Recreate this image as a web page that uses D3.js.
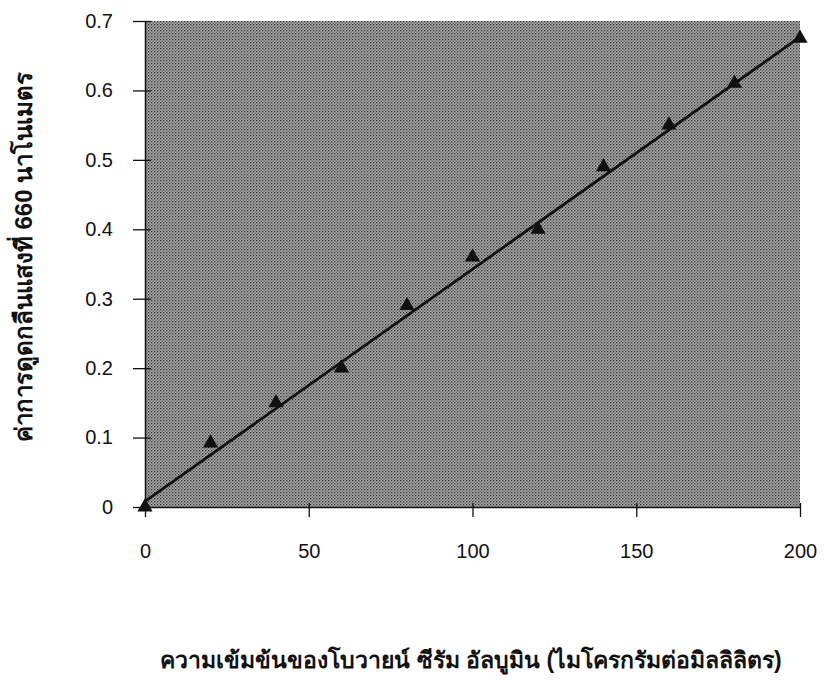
<!DOCTYPE html>
<html>
<head>
<meta charset="utf-8">
<script src="https://cdn.jsdelivr.net/npm/d3@7"></script>
<style>
  body { margin: 0; background: #ffffff; }
  text { font-family: "Liberation Sans", Arial, sans-serif; }
</style>
</head>
<body>
<div id="chart"></div>
<script>
// data
var concentration = [0, 20, 40, 60, 80, 100, 120, 140, 160, 180, 200];
var absorbance = [0, 0.092, 0.15, 0.20, 0.29, 0.36, 0.40, 0.49, 0.55, 0.61, 0.675];
var fitX = [0, 200];
var fitY = [0.008, 0.677];
var xTicks = [0, 50, 100, 150, 200];
var yTicks = [0, 0.1, 0.2, 0.3, 0.4, 0.5, 0.6, 0.7];
var xTitle = "ความเข้มข้นของโบวายน์ ซีรัม อัลบูมิน (ไมโครกรัมต่อมิลลิลิตร)";
var yTitle = "ค่าการดูดกลืนแสงที่ 660 นาโนเมตร";

var svgWidth = 824, svgHeight = 685;
var margin = {top: 21, right: 24, bottom: 178, left: 145};
var width = svgWidth - margin.left - margin.right;
var height = svgHeight - margin.top - margin.bottom;

var svg = d3.select("#chart").append("svg")
  .attr("width", svgWidth)
  .attr("height", svgHeight);

// stipple pattern for the plot area
var defs = svg.append("defs");
var pat = defs.append("pattern")
  .attr("id", "stipple")
  .attr("width", 3).attr("height", 3)
  .attr("patternUnits", "userSpaceOnUse");
pat.append("rect").attr("width", 3).attr("height", 3).attr("fill", "#aeaeae");
pat.append("rect").attr("width", 1.3).attr("height", 1.3).attr("fill", "#2e2e2e");
pat.append("rect").attr("x", 1.5).attr("y", 1.5).attr("width", 1.3).attr("height", 1.3).attr("fill", "#505050");

var g = svg.append("g")
  .attr("transform", `translate(${margin.left}, ${margin.top})`);

var x = d3.scaleLinear().domain([0, 200]).range([0, width]);
var y = d3.scaleLinear().domain([0, 0.7]).range([height, 0]);

g.append("rect")
  .attr("width", width)
  .attr("height", height)
  .attr("fill", "url(#stipple)");

// axes
var xAxis = g.append("g")
  .attr("transform", `translate(0, ${height})`)
  .call(d3.axisBottom(x).tickValues(xTicks).tickSize(0).tickPadding(37).tickFormat(d3.format("d")));
xAxis.select(".domain").attr("stroke", "#111").attr("stroke-width", 1.5);
xAxis.selectAll(".tick").append("line")
  .attr("y1", -4).attr("y2", 10).attr("stroke", "#111").attr("stroke-width", 1.3);
xAxis.selectAll("text").attr("font-size", 20).attr("fill", "#111");

var yAxis = g.append("g")
  .call(d3.axisLeft(y).tickValues(yTicks).tickSize(0).tickPadding(32).tickFormat(d => d === 0 ? "0" : d3.format(".1f")(d)));
yAxis.select(".domain").attr("stroke", "#111").attr("stroke-width", 1.5);
yAxis.selectAll(".tick").append("line")
  .attr("x1", -12).attr("x2", 6).attr("stroke", "#111").attr("stroke-width", 1.3);
yAxis.selectAll("text").attr("font-size", 20).attr("fill", "#111");

// fitted line
var line = d3.line().x(d => x(d[0])).y(d => y(d[1]));
g.append("path")
  .datum(fitX.map((v, i) => [v, fitY[i]]))
  .attr("d", line)
  .attr("fill", "none")
  .attr("stroke", "#111")
  .attr("stroke-width", 2.8);

// triangle markers
g.selectAll(".pt")
  .data(concentration)
  .enter()
  .append("path")
  .attr("class", "pt")
  .attr("d", d3.symbol().type(d3.symbolTriangle).size(100))
  .attr("transform", (d, i) => `translate(${x(d)}, ${y(absorbance[i])})`)
  .attr("fill", "#111");

// titles
svg.append("text")
  .attr("x", 471)
  .attr("y", 668)
  .attr("text-anchor", "middle")
  .attr("font-size", 23)
  .attr("font-weight", "bold")
  .attr("fill", "#111")
  .text(xTitle);

svg.append("text")
  .attr("transform", "translate(32, 257) rotate(-90)")
  .attr("text-anchor", "middle")
  .attr("font-size", 24)
  .attr("font-weight", "bold")
  .attr("fill", "#111")
  .text(yTitle);
</script>
</body>
</html>
